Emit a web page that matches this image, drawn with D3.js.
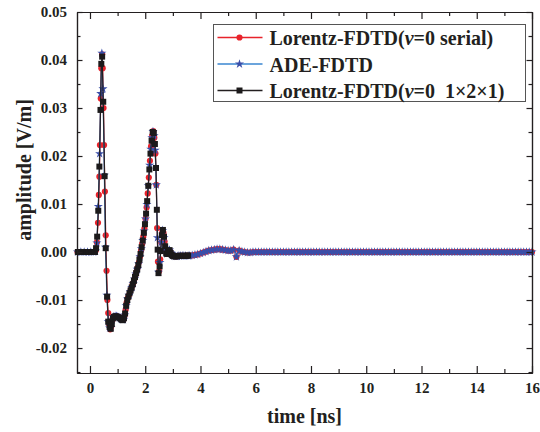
<!DOCTYPE html>
<html>
<head>
<meta charset="utf-8">
<script src="https://cdn.jsdelivr.net/npm/d3@7"></script>
<style>
	html, body { margin: 0; padding: 0; background: #fff; }
	#line-chart { display: block; width: 540px; height: 432px; }
	#line-chart text { font-family: "Liberation Serif", "Times New Roman", serif; font-weight: bold; fill: #231f20; }
	.axis path, .axis line { stroke: #231f20; stroke-width: 1.2; }
	.chart-path { fill: none; stroke-width: 1.2; }
</style>
</head>
<body>
<svg id="line-chart"></svg>
<script>
// [time (ns), amplitude (V/m)]

var serialData = [
	[-0.45, 0], [-0.35, 0], [-0.25, 0], [-0.15, 0], [-0.05, 0], [0.05, 0], [0.15, 0],
	[0.21, 0.0003], [0.25, 0.0020], [0.29, 0.0061], [0.32, 0.0119], [0.34, 0.0157], [0.36, 0.0223],
	[0.39, 0.0320], [0.41, 0.0383], [0.44, 0.0412], [0.46, 0.0383], [0.49, 0.0300], [0.51, 0.0223],
	[0.54, 0.0126], [0.57, 0.0035], [0.60, -0.0039], [0.63, -0.0100], [0.66, -0.0127], [0.69, -0.0150],
	[0.73, -0.0161], [0.77, -0.0155], [0.81, -0.0142], [0.85, -0.0136], [0.89, -0.0135], [0.93, -0.0134],
	[0.97, -0.0134], [1.01, -0.0135], [1.05, -0.0136], [1.09, -0.0138], [1.13, -0.0140], [1.17, -0.0141],
	[1.21, -0.0141], [1.25, -0.0133], [1.29, -0.0120], [1.33, -0.0105], [1.37, -0.0096], [1.41, -0.0090],
	[1.45, -0.0083], [1.49, -0.0077], [1.53, -0.0070], [1.57, -0.0064], [1.61, -0.0056], [1.65, -0.0048],
	[1.69, -0.0040], [1.73, -0.0032], [1.77, -0.0022], [1.81, -0.0010], [1.85, 0.0003], [1.89, 0.0017],
	[1.93, 0.0032], [1.97, 0.0049], [2.01, 0.0069], [2.05, 0.0093], [2.09, 0.0122], [2.13, 0.0155],
	[2.17, 0.0190], [2.21, 0.0220], [2.25, 0.0242], [2.29, 0.0252], [2.33, 0.0238], [2.37, 0.0205],
	[2.40, 0.0140], [2.43, 0.0050], [2.46, -0.0020], [2.50, -0.0040], [2.54, -0.0015], [2.58, 0.0020],
	[2.62, 0.0042], [2.66, 0.0040], [2.70, 0.0022], [2.74, 0.0005], [2.78, -0.0004], [2.82, -0.0001],
	[2.86, 0.0003], [2.90, 0.0002], [2.94, -0.0004], [2.98, -0.0007], [3.02, -0.0008], [3.08, -0.0009],
	[3.14, -0.0009], [3.20, -0.0008], [3.26, -0.0008], [3.32, -0.0008], [3.38, -0.0008], [3.44, -0.0008],
	[3.50, -0.0008]
];

var adeData = [
	[-0.45, 0], [-0.33, 0], [-0.21, 0], [-0.09, 0], [0.03, 0], [0.13, 0],
	[0.20, 0.0002], [0.25, 0.0019], [0.30, 0.0095], [0.35, 0.0205], [0.39, 0.0330], [0.43, 0.0414],
	[0.47, 0.0340], [0.52, 0.0160], [0.56, 0.0010], [0.61, -0.0090], [0.66, -0.0145], [0.71, -0.0158],
	[0.76, -0.0157], [0.81, -0.0142], [0.86, -0.0135], [0.91, -0.0134], [0.96, -0.0134], [1.01, -0.0135],
	[1.06, -0.0137], [1.11, -0.0139], [1.16, -0.0141], [1.21, -0.0141], [1.26, -0.0131], [1.31, -0.0112],
	[1.36, -0.0098], [1.41, -0.0090], [1.46, -0.0082], [1.51, -0.0074], [1.56, -0.0066], [1.61, -0.0056],
	[1.66, -0.0046], [1.71, -0.0036], [1.76, -0.0025], [1.81, -0.0010], [1.86, 0.0007], [1.91, 0.0024],
	[1.96, 0.0044], [2.01, 0.0069], [2.06, 0.0099], [2.11, 0.0138], [2.16, 0.0181], [2.20, 0.0214],
	[2.24, 0.0238], [2.28, 0.0251], [2.32, 0.0242], [2.36, 0.0212], [2.40, 0.0140], [2.44, 0.0030],
	[2.48, -0.0042], [2.53, -0.0022], [2.58, 0.0020], [2.63, 0.0045], [2.68, 0.0030], [2.73, 0.0008],
	[2.78, -0.0004], [2.83, 0.0000], [2.88, 0.0004], [2.93, -0.0002], [2.98, -0.0007], [3.04, -0.0008],
	[3.10, -0.0009], [3.16, -0.0009], [3.22, -0.0008], [3.28, -0.0008], [3.34, -0.0008], [3.40, -0.0008],
	[3.46, -0.0008]
];

// the serial Lorentz and ADE runs overlap completely after ~3.5 ns
var tailData = [
	[3.55, -0.0008], [3.6, -0.0008], [3.7, -0.0007], [3.8, -0.0006], [3.9, -0.0005], [4.0, -0.0003],
	[4.1, -0.0001], [4.2, 0.0001], [4.3, 0.0003], [4.4, 0.0004], [4.5, 0.0005], [4.6, 0.0006],
	[4.7, 0.0006], [4.8, 0.0005], [4.9, 0.0004], [5.0, 0.0003], [5.1, 0.0003], [5.2, 0.0005],
	[5.3, -0.0010], [5.4, 0.0003], [5.5, 0.0001], [5.6, 0.0000], [5.7, -0.0001], [5.8, -0.0001],
	[5.9, 0], [6.0, 0], [6.1, 0], [6.2, 0], [6.3, 0], [6.4, 0], [6.5, 0], [6.6, 0], [6.7, 0], [6.8, 0],
	[6.9, 0], [7.0, 0], [7.1, 0], [7.2, 0], [7.3, 0], [7.4, 0], [7.5, 0], [7.6, 0], [7.7, 0], [7.8, 0],
	[7.9, 0], [8.0, 0], [8.1, 0], [8.2, 0], [8.3, 0], [8.4, 0], [8.5, 0], [8.6, 0], [8.7, 0], [8.8, 0],
	[8.9, 0], [9.0, 0], [9.1, 0], [9.2, 0], [9.3, 0], [9.4, 0], [9.5, 0], [9.6, 0], [9.7, 0], [9.8, 0],
	[9.9, 0], [10.0, 0], [10.1, 0], [10.2, 0], [10.3, 0], [10.4, 0], [10.5, 0], [10.6, 0], [10.7, 0],
	[10.8, 0], [10.9, 0], [11.0, 0], [11.1, 0], [11.2, 0], [11.3, 0], [11.4, 0], [11.5, 0], [11.6, 0],
	[11.7, 0], [11.8, 0], [11.9, 0], [12.0, 0], [12.1, 0], [12.2, 0], [12.3, 0], [12.4, 0], [12.5, 0],
	[12.6, 0], [12.7, 0], [12.8, 0], [12.9, 0], [13.0, 0], [13.1, 0], [13.2, 0], [13.3, 0], [13.4, 0],
	[13.5, 0], [13.6, 0], [13.7, 0], [13.8, 0], [13.9, 0], [14.0, 0], [14.1, 0], [14.2, 0], [14.3, 0],
	[14.4, 0], [14.5, 0], [14.6, 0], [14.7, 0], [14.8, 0], [14.9, 0], [15.0, 0], [15.1, 0], [15.2, 0],
	[15.3, 0], [15.4, 0], [15.5, 0], [15.6, 0], [15.7, 0], [15.8, 0], [15.9, 0], [16.0, 0]
];

var parallelData = [
	[-0.44, 0], [-0.36, 0], [-0.28, 0], [-0.20, 0], [-0.12, 0], [-0.04, 0], [0.04, 0], [0.12, 0], [0.18, 0],
	[0.22, 0.0008], [0.26, 0.0032], [0.30, 0.0086], [0.34, 0.0178], [0.38, 0.0296], [0.41, 0.0392],
	[0.44, 0.0407], [0.48, 0.0313], [0.53, 0.0158], [0.57, 0.0008], [0.62, -0.0093], [0.66, -0.0145],
	[0.71, -0.0156], [0.75, -0.0160], [0.79, -0.0150], [0.83, -0.0138], [0.87, -0.0135], [0.91, -0.0134],
	[0.95, -0.0134], [0.99, -0.0135], [1.03, -0.0136], [1.07, -0.0137], [1.11, -0.0139], [1.15, -0.0141],
	[1.19, -0.0142], [1.23, -0.0138], [1.27, -0.0128], [1.31, -0.0112], [1.35, -0.0100], [1.39, -0.0093],
	[1.43, -0.0086], [1.47, -0.0080], [1.51, -0.0074], [1.55, -0.0067], [1.59, -0.0060], [1.63, -0.0052],
	[1.67, -0.0044], [1.71, -0.0036], [1.75, -0.0027], [1.79, -0.0016], [1.83, -0.0004], [1.87, 0.0010],
	[1.91, 0.0024], [1.95, 0.0040], [1.99, 0.0058], [2.03, 0.0080], [2.07, 0.0106], [2.11, 0.0138],
	[2.15, 0.0172], [2.19, 0.0205], [2.23, 0.0232], [2.27, 0.0250], [2.31, 0.0248], [2.35, 0.0225],
	[2.39, 0.0175], [2.42, 0.0088], [2.45, 0.0005], [2.48, -0.0044], [2.52, -0.0030], [2.56, 0.0002],
	[2.60, 0.0035], [2.64, 0.0046], [2.68, 0.0032], [2.72, 0.0012], [2.76, -0.0003], [2.80, -0.0004],
	[2.84, 0.0002], [2.88, 0.0004], [2.92, -0.0002], [2.96, -0.0006], [3.00, -0.0008], [3.05, -0.0009],
	[3.10, -0.0009], [3.15, -0.0009], [3.20, -0.0008], [3.25, -0.0008], [3.30, -0.0008], [3.35, -0.0008],
	[3.40, -0.0008], [3.45, -0.0008], [3.50, -0.0008], [3.55, -0.0007]
];

// legend labels, odd parts are set in italics
var seriesLabels = [
	["Lorentz-FDTD(", "v", "=0 serial)"],
	["ADE-FDTD"],
	["Lorentz-FDTD(", "v", "=0  1\u00d72\u00d71)"]
];

var xTicks = [0, 2, 4, 6, 8, 10, 12, 14, 16];
var xTickLabels = ["0", "2", "4", "6", "8", "10", "12", "14", "16"];
var xMinorTicks = [1, 3, 5, 7, 9, 11, 13, 15];
var yTicks = [-0.02, -0.01, 0, 0.01, 0.02, 0.03, 0.04, 0.05];
var yTickLabels = ["-0.02", "-0.01", "0.00", "0.01", "0.02", "0.03", "0.04", "0.05"];
var yMinorTicks = [-0.025, -0.015, -0.005, 0.005, 0.015, 0.025, 0.035, 0.045];


(function() {

	'use strict';

	var chartGroup,
		width,
		height,
		xScale,
		yScale,
		margin = {top: 12, right: 8, bottom: 59, left: 77};


	/**
	* set up svg and plot group
	* @returns {undefined}
	*/
	var initChart = function() {
		var svg = d3.select("#line-chart").attr("width", 540).attr("height", 432);

		width = 540 - margin.left - margin.right;
		height = 432 - margin.top - margin.bottom;

		chartGroup = svg.append("g").attr("transform", "translate(" + margin.left + "," + margin.top + ")");
	};


	/**
	* axis ranges as read off the frame
	* @returns {undefined}
	*/
	var initScales = function() {
		xScale = d3.scaleLinear()
			.domain([-0.47, 16])
			.range([0, width]);

		yScale = d3.scaleLinear()
			.domain([-0.0252, 0.05])
			.range([height, 0]);
	};


	/**
	* axes on all four sides, ticks pointing inward
	* @returns {undefined}
	*/
	var createAxes = function() {
		// bottom
		chartGroup.append("g")
			.attr("class", "axis")
			.attr("transform", "translate(0," + height + ")")
			.call(d3.axisBottom(xScale)
				.tickValues(xTicks)
				.tickFormat(function(d, i) { return xTickLabels[i]; })
				.tickSizeInner(-7)
				.tickSizeOuter(0)
				.tickPadding(9))
			.call(function(g) { g.selectAll("text").style("font-size", "15px"); });

		chartGroup.append("g")
			.attr("class", "axis")
			.attr("transform", "translate(0," + height + ")")
			.call(d3.axisBottom(xScale).tickValues(xMinorTicks).tickFormat("").tickSizeInner(-4).tickSizeOuter(0));

		// top
		chartGroup.append("g")
			.attr("class", "axis")
			.call(d3.axisTop(xScale).tickValues(xTicks).tickFormat("").tickSizeInner(-7).tickSizeOuter(0));

		chartGroup.append("g")
			.attr("class", "axis")
			.call(d3.axisTop(xScale).tickValues(xMinorTicks).tickFormat("").tickSizeInner(-4).tickSizeOuter(0));

		// left
		chartGroup.append("g")
			.attr("class", "axis")
			.call(d3.axisLeft(yScale)
				.tickValues(yTicks)
				.tickFormat(function(d, i) { return yTickLabels[i]; })
				.tickSizeInner(-5.5)
				.tickSizeOuter(0)
				.tickPadding(10))
			.call(function(g) { g.selectAll("text").style("font-size", "15px"); });

		chartGroup.append("g")
			.attr("class", "axis")
			.call(d3.axisLeft(yScale).tickValues(yMinorTicks).tickFormat("").tickSizeInner(-3.5).tickSizeOuter(0));

		// right
		chartGroup.append("g")
			.attr("class", "axis")
			.attr("transform", "translate(" + width + ",0)")
			.call(d3.axisRight(yScale).tickValues(yTicks).tickFormat("").tickSizeInner(-5.5).tickSizeOuter(0));

		chartGroup.append("g")
			.attr("class", "axis")
			.attr("transform", "translate(" + width + ",0)")
			.call(d3.axisRight(yScale).tickValues(yMinorTicks).tickFormat("").tickSizeInner(-3.5).tickSizeOuter(0));

		// titles
		chartGroup.append("text")
			.attr("x", width / 2)
			.attr("y", height + 50)
			.attr("text-anchor", "middle")
			.style("font-size", "20px")
			.text("time [ns]");

		chartGroup.append("text")
			.attr("transform", "translate(" + (31 - margin.left) + "," + (170 - margin.top) + ") rotate(-90)")
			.attr("text-anchor", "middle")
			.style("font-size", "20px")
			.text("amplitude [V/m]");
	};


	/**
	* draw a line
	* @param {array} dataset [t, v] pairs
	* @param {string} color stroke colour
	* @returns {undefined}
	*/
	var drawLine = function(dataset, color) {
		var line = d3.line()
			.x(function(d) { return xScale(d[0]); })
			.y(function(d) { return yScale(d[1]); });

		chartGroup.append("path")
			.datum(dataset)
			.attr("class", "chart-path")
			.attr("stroke", color)
			.attr("d", line);
	};


	/**
	* draw markers
	* @param {array} dataset [t, v] pairs
	* @param {object} symbol d3 symbol type
	* @param {number} size symbol area
	* @param {string} color fill colour
	* @returns {undefined}
	*/
	var drawMarkers = function(dataset, symbol, size, color) {
		var sym = d3.symbol().type(symbol).size(size);

		chartGroup.append("g")
			.selectAll("path")
			.data(dataset)
			.enter()
			.append("path")
			.attr("transform", function(d) {
				return "translate(" + xScale(d[0]) + "," + yScale(d[1]) + ")";
			})
			.attr("d", sym)
			.attr("fill", color);
	};


	/**
	* boxed legend in the upper right
	* @param {array} items series styles
	* @returns {undefined}
	*/
	var drawLegend = function(items) {
		var legend = chartGroup.append("g")
			.attr("transform", "translate(" + (213.5 - margin.left) + "," + (24.5 - margin.top) + ")");

		legend.append("rect")
			.attr("width", 312)
			.attr("height", 77)
			.attr("fill", "#fff")
			.attr("stroke", "#555")
			.attr("stroke-width", 1);

		items.forEach(function(item, i) {
			var row = legend.append("g").attr("transform", "translate(0," + (13 + i * 26.5) + ")");

			row.append("line")
				.attr("x1", 4).attr("x2", 49)
				.attr("stroke", item.line)
				.attr("stroke-width", 1.5);

			row.append("path")
				.attr("transform", "translate(26,0)")
				.attr("d", d3.symbol().type(item.symbol).size(item.size)())
				.attr("fill", item.marker);

			var text = row.append("text")
				.attr("x", 56)
				.attr("y", 7.5)
				.style("font-size", "20px")
				.style("white-space", "pre");

			seriesLabels[i].forEach(function(part, j) {
				text.append("tspan")
					.style("font-style", j % 2 === 1 ? "italic" : "normal")
					.text(part);
			});
		});
	};


	var init = function() {
		var styles = [
			{line: "#e8232b", marker: "#e8232b", symbol: d3.symbolCircle, size: 30},
			{line: "#3a86d0", marker: "#3a4ea8", symbol: d3.symbolStar, size: 26},
			{line: "#231f20", marker: "#1c1a1b", symbol: d3.symbolSquare, size: 36}
		];
		var serialAll = serialData.concat(tailData),
			adeAll = adeData.concat(tailData);

		initChart();
		initScales();

		drawLine(serialAll, styles[0].line);
		drawMarkers(serialAll, styles[0].symbol, styles[0].size, styles[0].marker);
		drawLine(adeAll, styles[1].line);
		drawMarkers(adeAll, styles[1].symbol, styles[1].size, styles[1].marker);
		drawLine(parallelData, styles[2].line);
		drawMarkers(parallelData, styles[2].symbol, styles[2].size, styles[2].marker);

		createAxes();
		drawLegend(styles);
	};

	init();

})();
</script>
</body>
</html>
